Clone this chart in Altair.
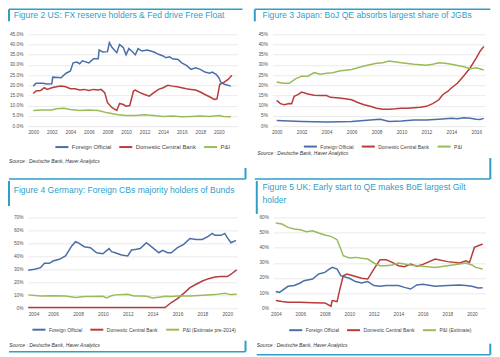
import altair as alt
import pandas as pd

BLUE = "#4a6fa8"
RED = "#b83c3c"
GREEN = "#9bbb59"
TEAL = "#2f9fc8"
FONT = "Liberation Sans"
SOURCE = "Source : Deutsche Bank, Haver Analytics"

# ---------------- Figure 2: US ----------------
us_fo_x = [2000, 2000.3, 2001, 2001.5, 2002, 2002.1, 2003, 2003.5, 2004, 2004.3, 2004.7, 2005, 2005.3, 2006, 2006.5, 2007, 2007.1, 2007.5, 2008, 2008.2, 2008.5, 2009, 2009.3, 2009.7, 2010, 2010.3, 2010.6, 2011, 2011.3, 2011.7, 2012.3, 2013, 2013.5, 2014, 2014.3, 2014.7, 2015, 2015.6, 2016, 2016.5, 2017, 2017.5, 2018, 2018.5, 2019, 2019.3, 2019.7, 2020, 2020.2, 2020.6, 2021.3]
us_fo_y = [19.6, 21, 21, 20.7, 20.8, 24, 23.7, 25.8, 27, 31, 31.4, 30.6, 32, 31, 33, 33, 37.3, 36.3, 36.5, 40.9, 38.5, 36, 40, 38.5, 35, 38, 36.8, 35, 38, 36.8, 37.3, 36.3, 35.2, 34.4, 33.5, 34, 33, 32.7, 31, 29.8, 27.8, 28.6, 27.8, 26.5, 25.9, 26.5, 25.4, 23.7, 21.6, 20.5, 19.6]
us_dcb_x = [2000, 2000.3, 2000.8, 2001.2, 2001.5, 2002, 2002.5, 2003, 2003.5, 2004, 2004.5, 2005, 2005.5, 2006, 2006.5, 2007, 2007.3, 2007.7, 2008, 2008.5, 2009, 2009.3, 2009.7, 2010, 2010.4, 2010.8, 2011, 2011.5, 2012, 2012.5, 2013, 2013.5, 2014, 2014.5, 2015, 2015.5, 2016, 2016.5, 2017, 2017.5, 2018, 2018.5, 2019, 2019.5, 2019.8, 2020.1, 2020.5, 2021, 2021.4]
us_dcb_y = [16, 17.2, 17.5, 18.8, 18, 18.8, 19.3, 19.6, 19.3, 18.3, 18.3, 17.7, 18, 17.5, 18, 17.7, 18, 16.4, 11.5, 9, 7.7, 11.1, 10.6, 9.8, 10.1, 17.2, 17.7, 16.4, 15.5, 14.7, 16.4, 18, 18.8, 20, 19.6, 19.3, 18.8, 18.3, 18, 17.7, 16.7, 15.5, 14.4, 13.1, 13.4, 20.5, 21.3, 22.9, 24.9]
us_pi_x = [2000, 2001, 2002, 2002.5, 2003.3, 2004, 2005, 2006, 2007, 2008, 2009, 2010, 2011, 2012, 2013, 2014, 2015, 2016, 2017, 2018, 2019, 2020, 2020.5, 2021.3]
us_pi_y = [7.7, 7.9, 7.9, 8.5, 8.7, 8.2, 7.7, 7.9, 7.7, 6.5, 5.7, 5.2, 5.2, 5.6, 5.2, 4.7, 4.9, 4.6, 4.7, 4.9, 4.7, 5.2, 4.7, 4.6]

# ---------------- Figure 3: Japan ----------------
jp_fo_x = [2000, 2002, 2004, 2006, 2008, 2008.3, 2009, 2010, 2011, 2012, 2013, 2014, 2014.5, 2015, 2015.5, 2016, 2016.3, 2016.6]
jp_fo_y = [2.8, 2.3, 2.0, 2.3, 3.3, 3.4, 2.3, 2.5, 3.0, 3.0, 3.4, 3.8, 3.6, 4.1, 3.8, 3.4, 3.3, 3.8]
jp_dcb_x = [2000, 2000.3, 2000.6, 2001, 2001.2, 2001.4, 2001.7, 2002, 2002.5, 2003, 2003.5, 2004, 2004.3, 2005, 2005.5, 2006, 2006.5, 2007, 2007.5, 2008, 2008.5, 2009, 2009.5, 2010, 2010.5, 2011, 2011.5, 2012, 2012.5, 2013, 2013.3, 2013.7, 2014, 2014.5, 2015, 2015.5, 2016, 2016.3, 2016.6]
jp_dcb_y = [12.6, 11, 10.5, 11.1, 11, 14.6, 15.4, 16.7, 15.7, 15.1, 15, 15, 14.1, 13.8, 13.4, 12.9, 11.6, 10.5, 9.7, 8.8, 8.3, 8.3, 8.5, 8.8, 8.8, 9, 9.2, 9.7, 11, 12.9, 15.4, 17, 18.7, 21.1, 24.7, 28.5, 33.4, 36.7, 39.1]
jp_pi_x = [2000, 2000.5, 2001, 2001.5, 2002, 2002.5, 2003, 2003.5, 2004, 2004.5, 2005, 2006, 2007, 2008, 2008.5, 2009, 2010, 2011, 2012, 2012.5, 2013, 2013.5, 2014, 2015, 2015.5, 2016, 2016.6]
jp_pi_y = [21.6, 21, 21, 23.2, 24.5, 24.5, 26.2, 25.4, 25.9, 26.2, 27, 27.8, 29.5, 30.8, 31.1, 31.9, 31.1, 30.3, 29.8, 30.3, 31.1, 30.8, 30.3, 29.1, 28.1, 28.6, 27.5]

# ---------------- Figure 4: Germany ----------------
de_fo_x = [2004, 2004.5, 2005, 2005.3, 2005.7, 2006, 2006.5, 2007, 2007.5, 2007.8, 2008, 2008.5, 2009, 2009.5, 2010, 2010.5, 2010.7, 2011, 2011.5, 2012, 2012.3, 2012.7, 2013, 2013.5, 2014, 2014.5, 2014.8, 2015.2, 2015.5, 2016, 2016.5, 2017, 2017.5, 2018, 2018.5, 2018.8, 2019, 2019.5, 2019.8, 2020, 2020.3, 2020.7]
de_fo_y = [29.2, 30, 31.3, 34.6, 34.6, 36.4, 37.7, 40.3, 48, 51.3, 50.5, 47.4, 46.7, 42.8, 42, 46, 43.6, 42.8, 41, 40.3, 44.9, 45.4, 46, 50.5, 46.7, 42.8, 44.6, 42.8, 42.8, 46.7, 49.2, 53.8, 53, 53, 55.6, 57.7, 56.2, 56.2, 57.7, 54.4, 50.5, 52.3]
de_dcb_x = [2004, 2015, 2015.5, 2016, 2016.5, 2017, 2017.5, 2018, 2018.5, 2019, 2019.5, 2020, 2020.3, 2020.75]
de_dcb_y = [0.5, 0.5, 4.4, 7.4, 11.5, 15.9, 18.5, 21, 22.8, 24.1, 24.4, 24.4, 26.2, 29.5]
de_pi_x = [2004, 2005, 2006, 2007, 2007.8, 2008.5, 2009, 2010, 2010.3, 2010.7, 2011, 2012, 2012.5, 2013, 2013.5, 2014, 2014.5, 2015, 2015.5, 2016, 2017, 2018, 2019, 2019.8, 2020.3, 2020.75]
de_pi_y = [10.3, 9.5, 9.7, 9.5, 8.2, 9, 9, 9.2, 7.9, 9.7, 10.3, 10.8, 9.5, 9.5, 9.2, 7.9, 8.5, 9.2, 9, 9.5, 9.5, 10, 10.5, 11.5, 10.5, 10.8]

# ---------------- Figure 5: UK ----------------
uk_fo_x = [2004, 2004.3, 2005, 2005.5, 2006, 2006.3, 2007, 2007.5, 2008, 2008.3, 2008.6, 2009, 2009.3, 2010, 2010.5, 2011, 2011.5, 2012, 2012.5, 2013, 2014, 2014.5, 2015, 2015.5, 2016, 2017, 2018, 2019, 2019.5, 2020, 2020.5, 2020.87]
uk_fo_y = [11, 10.5, 14.5, 15, 16.7, 18.2, 19.3, 22.6, 23.7, 25.5, 27, 25.9, 21.5, 19.8, 17.6, 16.7, 17.6, 15, 14.5, 15, 15, 13.8, 12.7, 15.4, 15.8, 14.5, 15, 15.4, 15, 14.5, 13.4, 13.6]
uk_dcb_x = [2004, 2004.5, 2005, 2006, 2007, 2008, 2008.5, 2008.6, 2009, 2009.2, 2009.5, 2009.8, 2010.3, 2011, 2011.5, 2012, 2012.5, 2013, 2013.5, 2014, 2014.5, 2015, 2015.5, 2016, 2017, 2018, 2019, 2019.5, 2019.8, 2020.2, 2020.87]
uk_dcb_y = [5.1, 4.4, 4, 4, 3.7, 3.5, 1.3, 5.1, 4.4, 11.6, 21.5, 22.6, 21.5, 19.8, 19.3, 25.9, 32, 32, 30.3, 28.1, 27.5, 29.2, 27.7, 29, 32.5, 30.8, 29.9, 31.4, 30.3, 40.2, 42.4]
uk_pi_x = [2004, 2004.5, 2005, 2005.5, 2006, 2006.5, 2007, 2007.5, 2008, 2008.5, 2009, 2009.3, 2009.5, 2010, 2010.5, 2011, 2011.5, 2012, 2012.5, 2013, 2013.5, 2014, 2014.5, 2015, 2015.5, 2016, 2017, 2018, 2019, 2019.5, 2020, 2020.3, 2020.87]
uk_pi_y = [56.3, 55.6, 53.4, 52.3, 51.9, 50.5, 51.2, 49.7, 48.4, 47.5, 45.3, 39.1, 34.7, 33.2, 33.6, 33, 32.5, 29.9, 28.1, 28.1, 28.6, 29.9, 29.2, 28.6, 28.1, 27.7, 27, 28.1, 29.2, 29.9, 28.6, 27, 25.9]

one = pd.DataFrame({"d": [0]})


def long_df(names, series):
    rows = []
    for name, (xs, ys) in zip(names, series):
        for k, (x, y) in enumerate(zip(xs, ys)):
            rows.append({"series": name, "year": x, "value": y, "k": k})
    return pd.DataFrame(rows)


def hrule(x1, x2, y, w=1.5):
    return alt.Chart(one).mark_rule(color=TEAL, strokeWidth=w).encode(
        x=alt.value(x1), x2=alt.value(x2), y=alt.value(y))


def vrule(x, y1, y2, w=2):
    return alt.Chart(one).mark_rule(color=TEAL, strokeWidth=w).encode(
        x=alt.value(x), y=alt.value(y1), y2=alt.value(y2))


def panel(title, names, series, xdom, xticks, ydom, ystep, ylabel, w, h,
          title_pos, leg_pos, leg_font, src_pos, deco):
    df = long_df(names, series)
    yticks = list(range(ydom[0], ydom[1] + 1, ystep))
    lines = alt.Chart(df).mark_line(strokeWidth=1.5).encode(
        x=alt.X("year:Q",
                scale=alt.Scale(domain=xdom, nice=False, zero=False),
                axis=alt.Axis(values=xticks, format="d", grid=False, domain=False,
                              ticks=False, labelFontSize=4.8, labelColor="#555",
                              labelPadding=3, title=None, labelFont=FONT)),
        y=alt.Y("value:Q",
                scale=alt.Scale(domain=ydom, nice=False),
                axis=alt.Axis(values=yticks, grid=True, gridColor="#dcdcdc",
                              gridWidth=0.6, domain=False, ticks=False,
                              labelFontSize=4.8, labelColor="#555", labelPadding=5,
                              labelExpr=ylabel, title=None, labelFont=FONT)),
        color=alt.Color("series:N",
                        scale=alt.Scale(domain=names, range=[BLUE, RED, GREEN]),
                        legend=alt.Legend(orient="none", legendX=leg_pos[0],
                                          legendY=leg_pos[1], direction="horizontal",
                                          title=None, symbolType="stroke",
                                          symbolSize=170, symbolStrokeWidth=2,
                                          labelFontSize=leg_font, labelColor="#444",
                                          labelFont=FONT, columnPadding=3,
                                          labelOffset=2, padding=0)),
        order="k:Q",
    )
    ttl = alt.Chart(one).mark_text(
        align="left", baseline="middle", fontSize=8.6, font=FONT, color=TEAL,
        lineBreak="\n", lineHeight=13).encode(
        x=alt.value(title_pos[0]), y=alt.value(title_pos[1]), text=alt.value(title))
    src = alt.Chart(one).mark_text(
        align="left", baseline="middle", fontSize=5, font=FONT, fontStyle="italic",
        color="#333").encode(
        x=alt.value(src_pos[0]), y=alt.value(src_pos[1]), text=alt.value(SOURCE))
    layers = [lines, ttl, src]
    for kind, args in deco:
        layers.append(hrule(*args) if kind == "h" else vrule(*args))
    return alt.layer(*layers).properties(width=w, height=h)


NAMES = ["Foreign Official", "Domestic Central Bank", "P&I"]

p1 = panel("Figure 2 US: FX reserve holders & Fed drive Free Float", NAMES,
           [(us_fo_x, us_fo_y), (us_dcb_x, us_dcb_y), (us_pi_x, us_pi_y)],
           [1999.43, 2021.98], list(range(2000, 2021, 2)), [0, 45], 5,
           "format(datum.value, '.1f') + '%'", 209.7, 92,
           (-14.3, -19), (26, 105), 5.9, (-19, 127),
           [("h", (-19, 215, -25)), ("v", (-19, -25, -13)),
            ("v", (218, 134, 145)), ("h", (-19, 218, 145))])

p2 = panel("Figure 3 Japan: BoJ QE absorbs largest share of JGBs", NAMES,
           [(jp_fo_x, jp_fo_y), (jp_dcb_x, jp_dcb_y), (jp_pi_x, jp_pi_y)],
           [1999.66, 2016.72], list(range(2000, 2017, 2)), [0, 45], 5,
           "datum.value + '%'", 213.3, 92,
           (-10, -19), (30, 104.5), 5.0, (-15, 118.5),
           [("h", (-17.7, 218.3, -25)), ("v", (-17.7, -25, -13)),
            ("v", (218.3, 124, 145)), ("h", (-17.7, 218.3, 145))])

p3 = panel("Figure 4 Germany: Foreign CBs majority holders of Bunds",
           ["Foreign Official", "Domestic Central Bank", "P&I (Estimate pre-2014)"],
           [(de_fo_x, de_fo_y), (de_dcb_x, de_dcb_y), (de_pi_x, de_pi_y)],
           [2003.98, 2020.8], list(range(2004, 2021, 2)), [0, 70], 10,
           "datum.value + '%'", 209.7, 91,
           (-14.3, -27.5), (3, 104.5), 5.0, (-18.7, 127.5),
           [("v", (-19, -36.5, -11.5)),
            ("v", (218, 123.5, 134.5)), ("h", (-19, 218, 134.5))])

p4 = panel("Figure 5 UK: Early start to QE makes BoE largest Gilt\nholder",
           ["Foreign Official", "Domestic Central Bank", "P&I (Estimate)"],
           [(uk_fo_x, uk_fo_y), (uk_dcb_x, uk_dcb_y), (uk_pi_x, uk_pi_y)],
           [2003.81, 2021.09], list(range(2004, 2021, 2)), [0, 60], 10,
           "datum.value + '%'", 212.3, 91,
           (-11, -30.5), (14.3, 105), 5.0, (-16.7, 127.5),
           [("v", (-16.7, -36.5, -3.5)),
            ("v", (217.3, 126.5, 137.5)), ("h", (-16.7, 217.3, 137.5))])

row1 = alt.hconcat(p1, p2, spacing=35, bounds="flush").resolve_scale(
    x="independent", y="independent", color="independent").resolve_legend(color="independent")
row2 = alt.hconcat(p3, p4, spacing=36, bounds="flush").resolve_scale(
    x="independent", y="independent", color="independent").resolve_legend(color="independent")

# nested rows count as zero height under flush bounds, so spacing is the full row pitch
chart = alt.vconcat(row1, row2, spacing=183.5, bounds="flush").resolve_scale(
    x="independent", y="independent", color="independent").resolve_legend(
    color="independent").properties(padding=0, background="white").configure_view(
    stroke=None)

chart.save("out.html", embed_options={"renderer": "svg", "actions": False})
